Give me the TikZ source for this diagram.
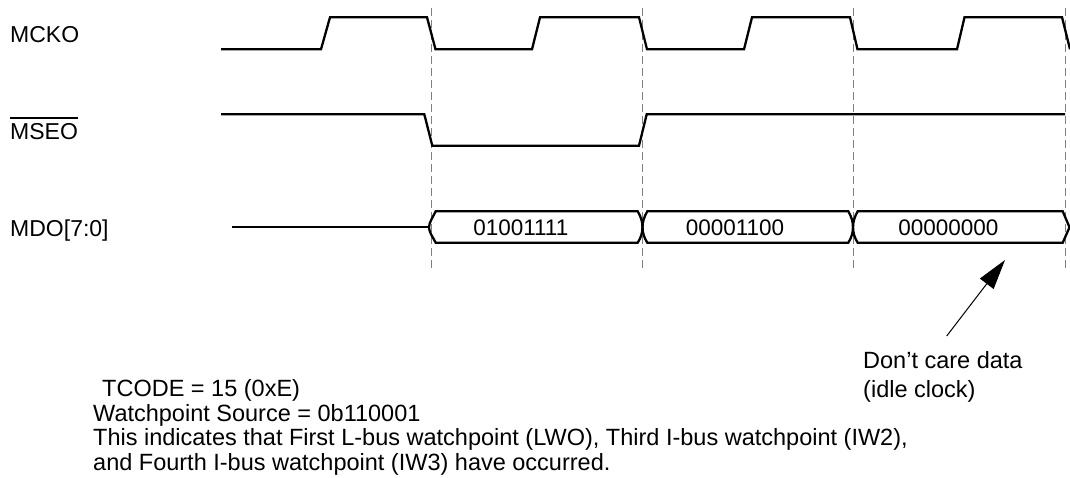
\documentclass[tikz,border=0pt]{standalone}
\usepackage{fontspec}
\setmainfont{Liberation Sans}
\usetikzlibrary{arrows.meta}
\begin{document}
\begin{tikzpicture}[x=1pt,y=-1pt,
  sig/.style={line width=2.3pt, line join=miter, line cap=butt},
  guide/.style={draw=black!50, line width=1pt, dash pattern=on 8pt off 4pt},
  lbl/.style={inner sep=0pt, anchor=base west, font=\fontsize{23}{25}\selectfont},
  busval/.style={inner sep=0pt, font=\fontsize{22.5}{25}\selectfont},
  note/.style={inner sep=0pt, anchor=base west, font=\fontsize{23.5}{25}\selectfont},
  pointer/.style={line width=1pt, -{Triangle[length=30pt,width=17pt]}}]
\useasboundingbox (0,0) rectangle (1070,478);

% guide lines
\foreach \x in {431,642.5,853,1065}
  \draw[guide] (\x,8) -- (\x,268);

% MCKO
\draw[sig] (221,49.3) -- (321,49.3) -- (330,17.3) -- (427,17.3) -- (435.5,49.3)
  -- (532,49.3) -- (540,17.3) -- (639,17.3) -- (647,49.3)
  -- (744,49.3) -- (752,17.3) -- (850,17.3) -- (857.5,49.3)
  -- (957,49.3) -- (964.5,17.3) -- (1062,17.3) -- (1070,49.3);

% MSEO
\draw[sig] (221,114.3) -- (424.3,114.3) -- (432.3,145.7) -- (639,145.7)
  -- (646.7,114.3) -- (1065,114.3);

% MDO
\draw[sig] (232,227.3) -- (429,227.3);
\draw[sig] (435.7,211.3) -- (637.7,211.3)
  .. controls (641,217) and (642.5,222) .. (642.5,227.3)
  .. controls (642.5,232.5) and (641,237.5) .. (637.7,242.7)
  -- (435.7,242.7)
  .. controls (433,237.5) and (429,232) .. (429,227.3)
  .. controls (429,222.5) and (433,217) .. cycle;
\draw[sig] (647.3,211.3) -- (848.3,211.3)
  .. controls (851.6,217) and (853,222) .. (853,227.3)
  .. controls (853,232.5) and (851.6,237.5) .. (848.3,242.7)
  -- (647.3,242.7)
  .. controls (644,237.5) and (642.5,232.5) .. (642.5,227.3)
  .. controls (642.5,222) and (644,217) .. cycle;
\draw[sig] (857.7,211.3) -- (1062.7,211.3) -- (1069.5,227.3) -- (1062.7,242.7)
  -- (857.7,242.7)
  .. controls (854.4,237.5) and (853,232.5) .. (853,227.3)
  .. controls (853,222) and (854.4,217) .. cycle;

\node[busval] (d1) at (520.8,227.6) {01001111};
\node[busval] (d2) at (735,227.6) {00001100};
\node[busval] (d3) at (948.3,227.6) {00000000};

% signal labels
\node[lbl] (mcko) at (10,42.7) {MCKO};
\node[lbl] (mseo) at (10,139.3) {MSEO};
\draw[line width=1.3pt] ([yshift=5pt]mseo.north west) -- ([yshift=5pt]mseo.north east);
\node[lbl] (mdo) at (10,236.5) {MDO[7:0]};

% annotation arrow
\node[note] (dc1) at (863,368.5) {Don’t care data};
\node[note] (dc2) at (863,397) {(idle clock)};
\coordinate (atail) at (946.7,336);
\coordinate (atip) at (1005,260);
\draw[pointer] (atail) -- (atip);

% notes
\node[note] (n1) at (102,396.7) {TCODE = 15 (0xE)};
\node[note] (n2) at (93,421.2) {Watchpoint Source = 0b110001};
\node[note] (n3) at (93,445.6) {This indicates that First L-bus watchpoint (LWO), Third I-bus watchpoint (IW2),};
\node[note] (n4) at (93,470) {and Fourth I-bus watchpoint (IW3) have occurred.};
\end{tikzpicture}
\end{document}
